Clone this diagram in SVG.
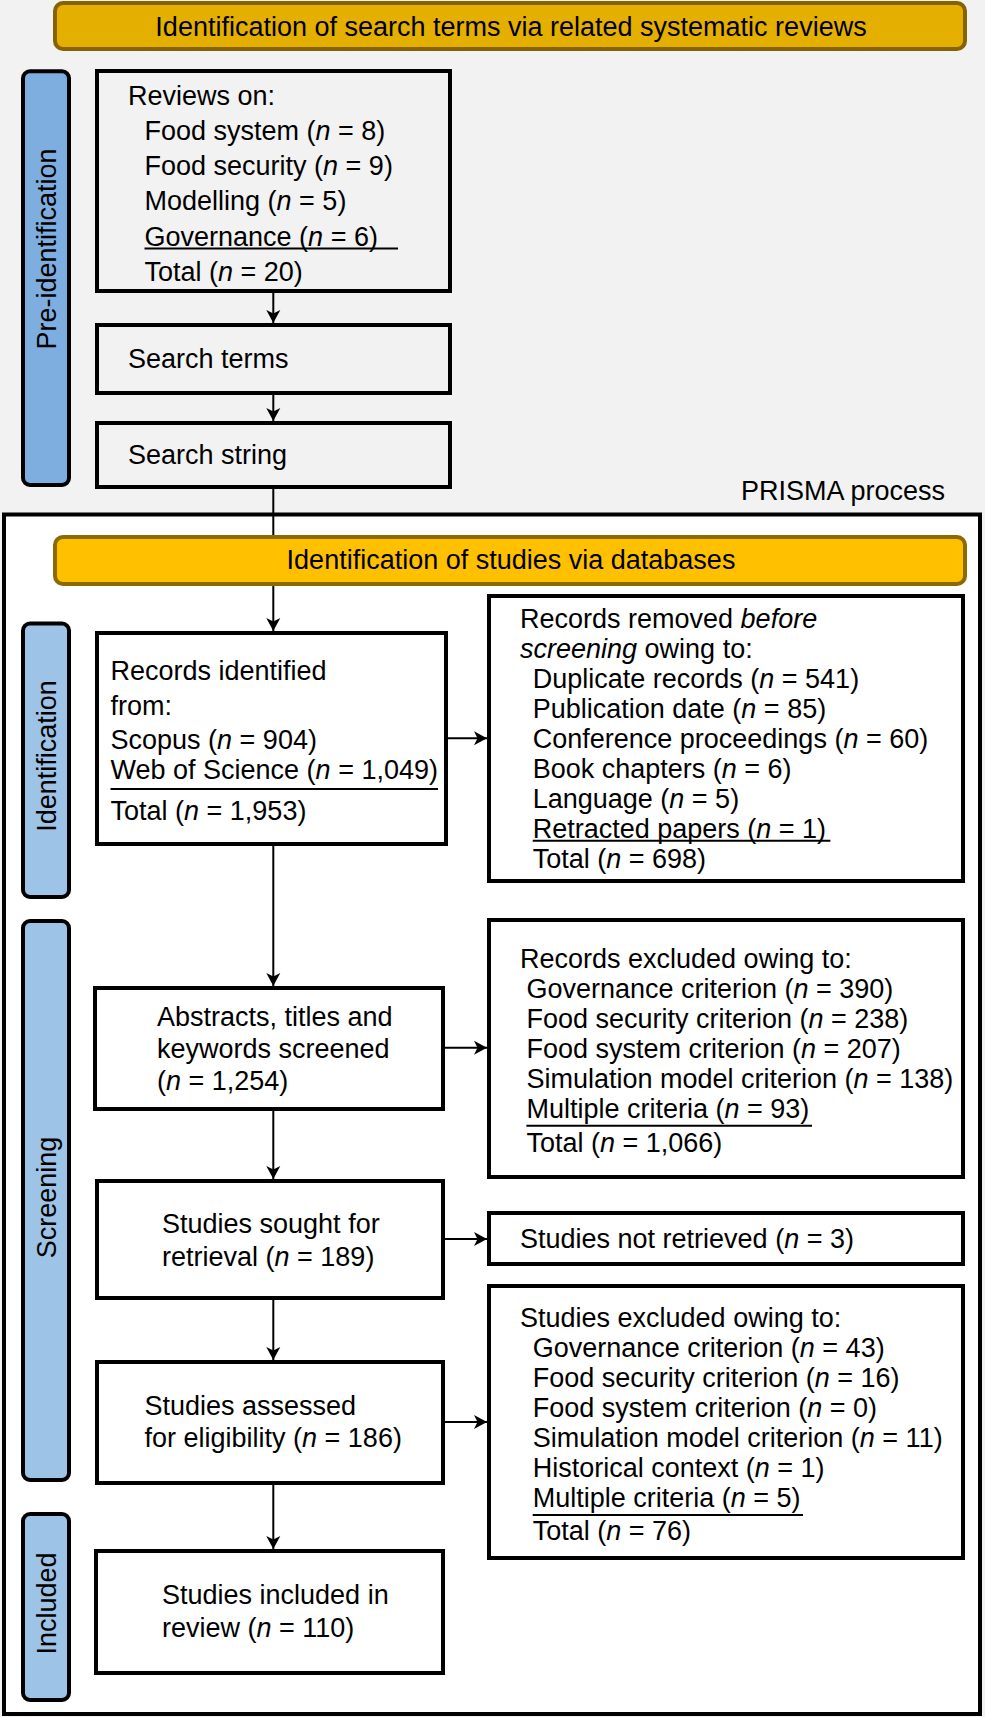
<svg xmlns="http://www.w3.org/2000/svg" width="985" height="1717" viewBox="0 0 985 1717">
<defs>
<marker id="ah" markerUnits="userSpaceOnUse" markerWidth="16" markerHeight="16" viewBox="-14 -8 16 16" refX="0" refY="0" orient="auto">
<path d="M0,0 L-13,-7 L-9.5,0 L-13,7 Z" fill="#000"/>
</marker>
<style>
text{font-family:"Liberation Sans",Arial,sans-serif;font-size:27px;fill:#000}
.box{fill:none;stroke:#000;stroke-width:4}
.side{stroke:#000;stroke-width:4;fill:#9DC3E6}
.ban{stroke-width:4}
.i{font-style:italic}
.ul{stroke:#000;stroke-width:2}
.c{stroke:#000;stroke-width:2;fill:none}
</style>
</defs>
<rect x="0" y="0" width="985" height="1717" fill="#F2F2F2"/>
<rect id="prisma-frame" x="4" y="514.5" width="976" height="1199.5" fill="#fff" stroke="#000" stroke-width="4"/>
<text x="945" y="500" text-anchor="end">PRISMA process</text>

<g id="banner-pre">
<rect class="ban" x="55" y="3" width="910" height="46" rx="8" fill="#E5AF00" stroke="#866300"/>
<text x="511" y="35.5" text-anchor="middle">Identification of search terms via related systematic reviews</text>
</g>
<g id="side-pre">
<rect class="side" x="23" y="71.3" width="46" height="413.7" rx="7" style="fill:#7EAEDF"/>
<text transform="translate(55.5,249) rotate(-90)" text-anchor="middle">Pre-identification</text>
</g>
<g id="reviews">
<rect class="box" x="97" y="71" width="353" height="220"/>
<text x="128" y="104.5">Reviews on:</text>
<text x="144.5" y="139.8">Food system (<tspan class="i">n</tspan> = 8)</text>
<text x="144.5" y="175.1">Food security (<tspan class="i">n</tspan> = 9)</text>
<text x="144.5" y="210.4">Modelling (<tspan class="i">n</tspan> = 5)</text>
<text x="144.5" y="245.7">Governance (<tspan class="i">n</tspan> = 6)</text>
<line class="ul" x1="144.5" y1="248.5" x2="398" y2="248.5"/>
<text x="144.5" y="281">Total (<tspan class="i">n</tspan> = 20)</text>
</g>
<g id="search-terms">
<rect class="box" x="97" y="325" width="353" height="68"/>
<text x="128" y="368">Search terms</text>
</g>
<g id="search-string">
<rect class="box" x="97" y="423" width="353" height="64"/>
<text x="128" y="463.5">Search string</text>
</g>

<g id="connectors">
<line class="c" x1="273.3" y1="293" x2="273.3" y2="323" marker-end="url(#ah)"/>
<line class="c" x1="273.3" y1="395" x2="273.3" y2="421" marker-end="url(#ah)"/>
<line class="c" x1="273.3" y1="489" x2="273.3" y2="535"/>
<line class="c" x1="273.3" y1="586" x2="273.3" y2="631" marker-end="url(#ah)"/>
<line class="c" x1="273.3" y1="846" x2="273.3" y2="986" marker-end="url(#ah)"/>
<line class="c" x1="273.3" y1="1111" x2="273.3" y2="1179" marker-end="url(#ah)"/>
<line class="c" x1="273.3" y1="1300" x2="273.3" y2="1360" marker-end="url(#ah)"/>
<line class="c" x1="273.3" y1="1485" x2="273.3" y2="1549" marker-end="url(#ah)"/>
<line class="c" x1="448" y1="738.3" x2="487" y2="738.3" marker-end="url(#ah)"/>
<line class="c" x1="445" y1="1047.7" x2="487" y2="1047.7" marker-end="url(#ah)"/>
<line class="c" x1="445" y1="1239" x2="487" y2="1239" marker-end="url(#ah)"/>
<line class="c" x1="445" y1="1422" x2="487" y2="1422" marker-end="url(#ah)"/>
</g>

<g id="banner-db">
<rect class="ban" x="55" y="537" width="910" height="47" rx="8" fill="#FFC000" stroke="#8C6A00"/>
<text x="511" y="569" text-anchor="middle">Identification of studies via databases</text>
</g>
<g id="side-identification">
<rect class="side" x="23" y="623.5" width="46" height="273.5" rx="7"/>
<text transform="translate(55.5,756) rotate(-90)" text-anchor="middle">Identification</text>
</g>
<g id="side-screening">
<rect class="side" x="23" y="921" width="46" height="559" rx="7"/>
<text transform="translate(55.5,1197.5) rotate(-90)" text-anchor="middle">Screening</text>
</g>
<g id="side-included">
<rect class="side" x="23" y="1514" width="46" height="186" rx="7"/>
<text transform="translate(55.5,1603.5) rotate(-90)" text-anchor="middle">Included</text>
</g>

<g id="records-identified">
<rect class="box" x="97" y="633" width="349" height="211"/>
<text x="110.5" y="680">Records identified</text>
<text x="110.5" y="714.5">from:</text>
<text x="110.5" y="749.3">Scopus (<tspan class="i">n</tspan> = 904)</text>
<text x="110.5" y="779.3">Web of Science (<tspan class="i">n</tspan> = 1,049)</text>
<line class="ul" x1="110.5" y1="789" x2="438" y2="789"/>
<text x="110.5" y="820">Total (<tspan class="i">n</tspan> = 1,953)</text>
</g>
<g id="records-removed">
<rect class="box" x="489" y="596" width="474" height="285"/>
<text x="520" y="627.5">Records removed <tspan class="i">before</tspan></text>
<text x="520" y="657.5"><tspan class="i">screening</tspan> owing to:</text>
<text x="532.7" y="687.5">Duplicate records (<tspan class="i">n</tspan> = 541)</text>
<text x="532.7" y="717.5">Publication date (<tspan class="i">n</tspan> = 85)</text>
<text x="532.7" y="747.5">Conference proceedings (<tspan class="i">n</tspan> = 60)</text>
<text x="532.7" y="777.5">Book chapters (<tspan class="i">n</tspan> = 6)</text>
<text x="532.7" y="807.5">Language (<tspan class="i">n</tspan> = 5)</text>
<text x="532.7" y="837.5">Retracted papers (<tspan class="i">n</tspan> = 1)</text>
<line class="ul" x1="532.7" y1="840.7" x2="830.4" y2="840.7"/>
<text x="532.7" y="868">Total (<tspan class="i">n</tspan> = 698)</text>
</g>
<g id="abstracts-screened">
<rect class="box" x="95" y="988" width="348" height="121"/>
<text x="157" y="1026">Abstracts, titles and</text>
<text x="157" y="1058">keywords screened</text>
<text x="157" y="1090.3">(<tspan class="i">n</tspan> = 1,254)</text>
</g>
<g id="records-excluded">
<rect class="box" x="489" y="920" width="474" height="257"/>
<text x="520" y="968">Records excluded owing to:</text>
<text x="526.4" y="998">Governance criterion (<tspan class="i">n</tspan> = 390)</text>
<text x="526.4" y="1028">Food security criterion (<tspan class="i">n</tspan> = 238)</text>
<text x="526.4" y="1058">Food system criterion (<tspan class="i">n</tspan> = 207)</text>
<text x="526.4" y="1088">Simulation model criterion (<tspan class="i">n</tspan> = 138)</text>
<text x="526.4" y="1118">Multiple criteria (<tspan class="i">n</tspan> = 93)</text>
<line class="ul" x1="526.4" y1="1125.7" x2="812" y2="1125.7"/>
<text x="526.4" y="1152">Total (<tspan class="i">n</tspan> = 1,066)</text>
</g>
<g id="studies-sought">
<rect class="box" x="97" y="1181" width="346" height="117"/>
<text x="162" y="1233">Studies sought for</text>
<text x="162" y="1265.5">retrieval (<tspan class="i">n</tspan> = 189)</text>
</g>
<g id="studies-not-retrieved">
<rect class="box" x="489" y="1213" width="474" height="51"/>
<text x="520" y="1248">Studies not retrieved (<tspan class="i">n</tspan> = 3)</text>
</g>
<g id="studies-assessed">
<rect class="box" x="97" y="1362" width="346" height="121"/>
<text x="144.5" y="1415">Studies assessed</text>
<text x="144.5" y="1447">for eligibility (<tspan class="i">n</tspan> = 186)</text>
</g>
<g id="studies-excluded">
<rect class="box" x="489" y="1286" width="474" height="272"/>
<text x="520" y="1326.5">Studies excluded owing to:</text>
<text x="532.7" y="1356.5">Governance criterion (<tspan class="i">n</tspan> = 43)</text>
<text x="532.7" y="1386.5">Food security criterion (<tspan class="i">n</tspan> = 16)</text>
<text x="532.7" y="1416.5">Food system criterion (<tspan class="i">n</tspan> = 0)</text>
<text x="532.7" y="1446.5">Simulation model criterion (<tspan class="i">n</tspan> = 11)</text>
<text x="532.7" y="1476.5">Historical context (<tspan class="i">n</tspan> = 1)</text>
<text x="532.7" y="1506.5">Multiple criteria (<tspan class="i">n</tspan> = 5)</text>
<line class="ul" x1="532.7" y1="1515" x2="803" y2="1515"/>
<text x="532.7" y="1540">Total (<tspan class="i">n</tspan> = 76)</text>
</g>
<g id="studies-included">
<rect class="box" x="96" y="1551" width="347" height="122"/>
<text x="162" y="1603.5">Studies included in</text>
<text x="162" y="1636.5">review (<tspan class="i">n</tspan> = 110)</text>
</g>
</svg>
